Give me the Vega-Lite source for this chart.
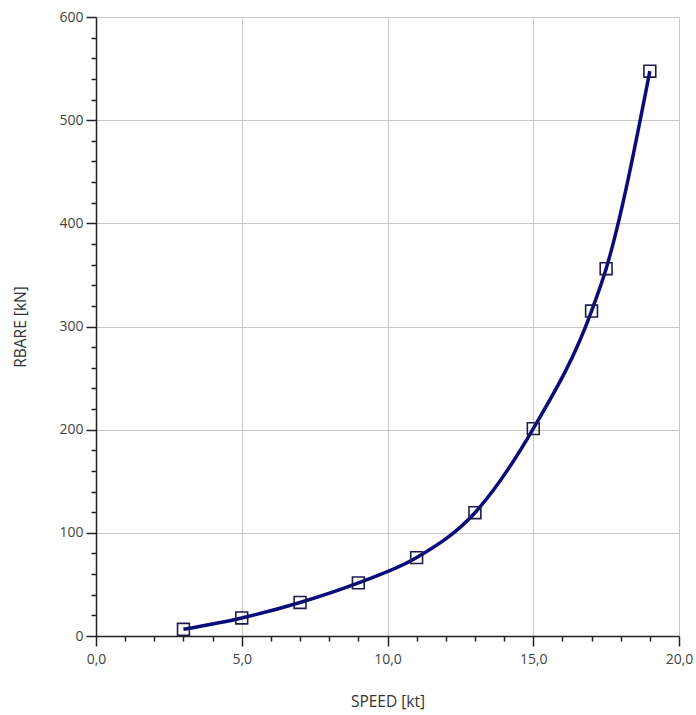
{
  "$schema": "https://vega.github.io/schema/vega-lite/v6.json",
  "autosize": {"type": "none"},
  "padding": {"left": 96, "top": 17, "right": 17, "bottom": 79},
  "width": 583,
  "height": 619,
  "background": "white",
  "config": {
    "view": {"stroke": null},
    "font": "Open Sans"
  },
  "data": {
    "values": [
      {"speed": 3, "rbare": 6.5},
      {"speed": 5, "rbare": 17.5},
      {"speed": 7, "rbare": 32.5},
      {"speed": 9, "rbare": 51.5},
      {"speed": 11, "rbare": 76},
      {"speed": 13, "rbare": 119.5},
      {"speed": 15, "rbare": 201},
      {"speed": 17, "rbare": 315},
      {"speed": 17.5, "rbare": 356},
      {"speed": 19, "rbare": 547.5}
    ]
  },
  "encoding": {
    "x": {
      "field": "speed", "type": "quantitative",
      "scale": {"domain": [0, 20], "nice": false, "zero": false},
      "axis": {
        "title": "SPEED [kt]",
        "values": [0,1,2,3,4,5,6,7,8,9,10,11,12,13,14,15,16,17,18,19,20],
        "labelExpr": "datum.value % 5 === 0 ? replace(format(datum.value, '.1f'), '.', ',') : ''",
        "tickSize": {"condition": {"test": "datum.value % 5 === 0", "value": 10}, "value": 5},
        "gridOpacity": {"condition": {"test": "datum.value % 5 === 0 && datum.value > 0", "value": 1}, "value": 0},
        "gridColor": "#c8c8c8",
        "gridWidth": 1,
        "tickColor": "#222",
        "tickWidth": 1.5,
        "domainColor": "#222",
        "domainWidth": 1.5,
        "labelFontSize": 14,
        "labelColor": "#444",
        "labelPadding": 6,
        "labelFlush": false,
        "labelOverlap": false,
        "titleFontSize": 15.5,
        "titleFontWeight": "normal",
        "titleColor": "#333",
        "titlePadding": 28
      }
    },
    "y": {
      "field": "rbare", "type": "quantitative",
      "scale": {"domain": [0, 600], "nice": false},
      "axis": {
        "title": "RBARE [kN]",
        "values": [0,20,40,60,80,100,120,140,160,180,200,220,240,260,280,300,320,340,360,380,400,420,440,460,480,500,520,540,560,580,600],
        "labelExpr": "datum.value % 100 === 0 ? format(datum.value, 'd') : ''",
        "tickSize": {"condition": {"test": "datum.value % 100 === 0", "value": 10}, "value": 5},
        "gridOpacity": {"condition": {"test": "datum.value % 100 === 0 && datum.value > 0", "value": 1}, "value": 0},
        "gridColor": "#c8c8c8",
        "gridWidth": 1,
        "tickColor": "#222",
        "tickWidth": 1.5,
        "domainColor": "#222",
        "domainWidth": 1.5,
        "labelFontSize": 14,
        "labelColor": "#444",
        "labelPadding": 3,
        "labelFlush": false,
        "labelOverlap": false,
        "titleFontSize": 15.5,
        "titleFontWeight": "normal",
        "titleColor": "#333",
        "titlePadding": 30
      }
    }
  },
  "layer": [
    {
      "mark": {"type": "line", "interpolate": "monotone", "color": "#0b0b7a", "strokeWidth": 3.5}
    },
    {
      "mark": {"type": "point", "shape": "square", "size": 140, "filled": false, "stroke": "#1c1c4c", "strokeWidth": 1.6, "opacity": 1}
    }
  ]
}
